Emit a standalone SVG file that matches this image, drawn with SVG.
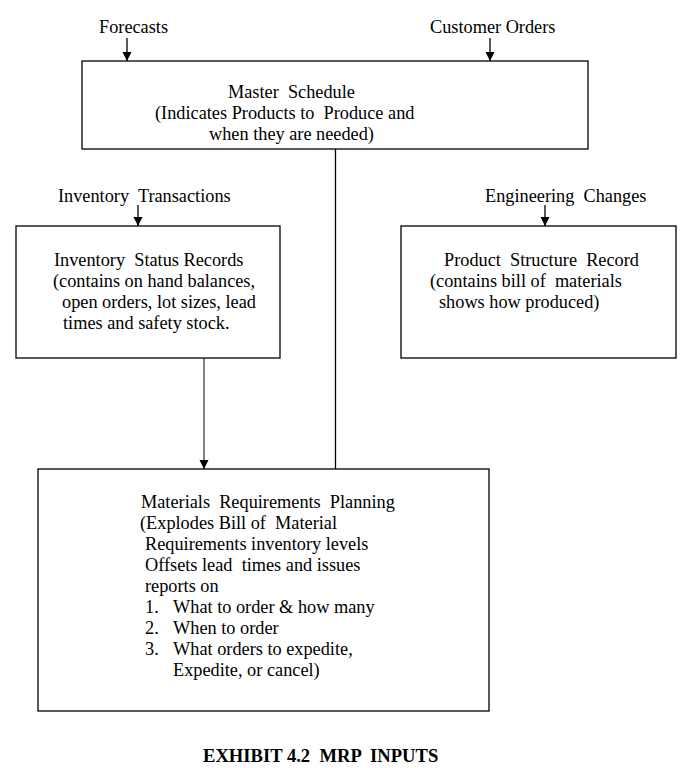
<svg xmlns="http://www.w3.org/2000/svg" width="687" height="768" viewBox="0 0 687 768">
<style>
text{font-family:"Liberation Serif","Times New Roman",serif;font-size:18.3px;fill:#000}
.box{fill:#fff;stroke:#000;stroke-width:1.3}
.ln{stroke:#000;stroke-width:1.3;fill:none}
.title{font-weight:bold;font-size:18.6px}
</style>
<defs>
<marker id="ah" markerWidth="10" markerHeight="10" refX="9" refY="5" orient="auto" markerUnits="userSpaceOnUse">
<path d="M0,0.5 L9,5 L0,9.5 z" fill="#000"/>
</marker>
</defs>
<rect width="687" height="768" fill="#fff"/>
<g id="connectors">
<line class="ln" x1="127" y1="38" x2="127" y2="61" marker-end="url(#ah)"/>
<line class="ln" x1="490" y1="38" x2="490" y2="61" marker-end="url(#ah)"/>
<line class="ln" x1="138" y1="205" x2="138" y2="226" marker-end="url(#ah)"/>
<line class="ln" x1="545" y1="205" x2="545" y2="226" marker-end="url(#ah)"/>
<line class="ln" x1="335.5" y1="149" x2="335.5" y2="469"/>
<line x1="204" y1="358" x2="204" y2="469" stroke="#808080" stroke-width="2" marker-end="url(#ah)"/>
</g>
<g id="labels">
<text x="99" y="33">Forecasts</text>
<text x="430" y="33">Customer Orders</text>
<text x="58" y="202" xml:space="preserve">Inventory  Transactions</text>
<text x="485" y="202" xml:space="preserve">Engineering  Changes</text>
</g>
<g id="master">
<rect class="box" x="82" y="61" width="506" height="88"/>
<text x="228" y="98" xml:space="preserve">Master  Schedule</text>
<text x="155" y="119" xml:space="preserve">(Indicates Products to  Produce and</text>
<text x="209" y="140">when they are needed)</text>
</g>
<g id="inventory">
<rect class="box" x="16" y="226" width="264" height="132"/>
<text x="54" y="266" xml:space="preserve">Inventory  Status Records</text>
<text x="53" y="287">(contains on hand balances,</text>
<text x="62" y="308">open orders, lot sizes, lead</text>
<text x="63" y="329">times and safety stock.</text>
</g>
<g id="product">
<rect class="box" x="401" y="226" width="275" height="132"/>
<text x="444" y="266" xml:space="preserve">Product  Structure  Record</text>
<text x="430" y="287" xml:space="preserve">(contains bill of  materials</text>
<text x="439" y="308">shows how produced)</text>
</g>
<g id="mrp">
<rect class="box" x="38" y="469" width="451" height="242"/>
<text x="141" y="508" xml:space="preserve">Materials  Requirements  Planning</text>
<text x="140" y="529" xml:space="preserve">(Explodes Bill of  Material</text>
<text x="145" y="550">Requirements inventory levels</text>
<text x="145" y="571" xml:space="preserve">Offsets lead  times and issues</text>
<text x="145" y="592">reports on</text>
<text x="145" y="613">1.</text><text x="173" y="613">What to order &amp; how many</text>
<text x="145" y="634">2.</text><text x="173" y="634">When to order</text>
<text x="145" y="655">3.</text><text x="173" y="655">What orders to expedite,</text>
<text x="173" y="676">Expedite, or cancel)</text>
</g>
<g id="caption">
<text class="title" x="203" y="762" xml:space="preserve">EXHIBIT 4.2  MRP  INPUTS</text>
</g>
</svg>
